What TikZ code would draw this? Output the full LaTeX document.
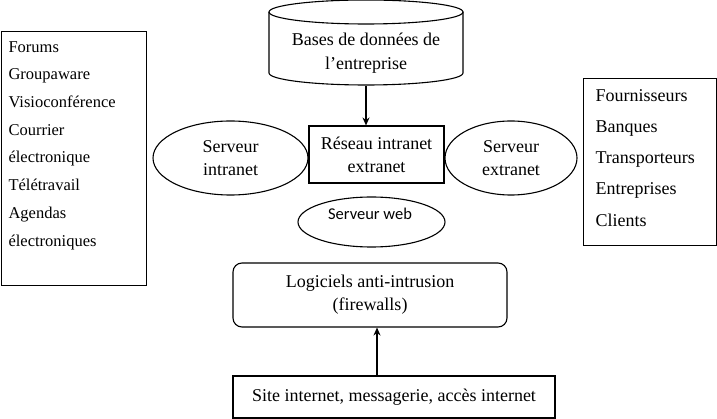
\documentclass[tikz,border=0pt]{standalone}
\usepackage{fontspec}
\setmainfont{Liberation Serif}
\newfontfamily\calfont{Carlito}
\usetikzlibrary{arrows.meta,shapes.geometric}
\begin{document}
\begin{tikzpicture}[x=1pt,y=-1pt,line width=1.1pt,
  mainfont/.style={font=\fontsize{18}{23}\selectfont},
  boxshape/.style={draw,rectangle,inner sep=0pt},
  oval/.style={draw,ellipse,inner sep=0pt},
  arr/.style={-{Stealth[length=8pt,width=7pt]}}]
\useasboundingbox (0,0) rectangle (717,419);
% left list box
\node[boxshape,minimum width=145,minimum height=254,anchor=north west] (left) at (1,31) {};
\node[font=\fontsize{16.5}{27.7}\selectfont,anchor=north west,align=left,inner sep=0pt] (lefttxt) at (8,40.8)
 {Forums\\Groupaware\\Visioconférence\\Courrier\\électronique\\Télétravail\\Agendas\\électroniques};
% right list box
\node[boxshape,minimum width=133,minimum height=167,anchor=north west] (right) at (583,78) {};
\node[font=\fontsize{18}{31.3}\selectfont,anchor=north west,align=left,inner sep=0pt] (righttxt) at (595,88.6)
 {Fournisseurs\\Banques\\Transporteurs\\Entreprises\\Clients};
% database cylinder
\draw (366,12) ellipse [x radius=97, y radius=12];
\draw (269,12) -- (269,73) arc[start angle=180, end angle=0, x radius=97, y radius=12] -- (463,12);
\node[font=\fontsize{18}{24}\selectfont,align=center,inner sep=0pt] (db) at (366,53)
 {Bases de données de\\l’entreprise};
\coordinate (dbout) at (366,86);
% central network box
\node[boxshape,mainfont,align=center,minimum width=135,minimum height=57] (net) at (376.5,154.5)
 {Réseau intranet\\extranet};
% servers
\node[oval,mainfont,align=center,minimum width=155,minimum height=74] (sint) at (230.5,158)
 {Serveur\\intranet};
\node[oval,mainfont,align=center,minimum width=132,minimum height=74] (sext) at (511,158)
 {Serveur\\extranet};
\node[oval,minimum width=147,minimum height=50] (sweb) at (371.5,222) {};
\node[font=\calfont\fontsize{16.5}{19}\selectfont,inner sep=0pt] (swebtxt) at (370,214) {Serveur web};
% firewall
\node[draw,rounded corners=9pt,mainfont,align=center,minimum width=274,minimum height=64] (fw) at (370,295)
 {Logiciels anti-intrusion\\(firewalls)};
% bottom box
\node[boxshape,mainfont,minimum width=322,minimum height=42] (site) at (394,397)
 {Site internet, messagerie, accès internet};
% arrows
\draw[arr] (dbout) -- (dbout |- net.north);
\draw[arr] (site.north -| 377,0) -- (377,0 |- fw.south);
\end{tikzpicture}
\end{document}
